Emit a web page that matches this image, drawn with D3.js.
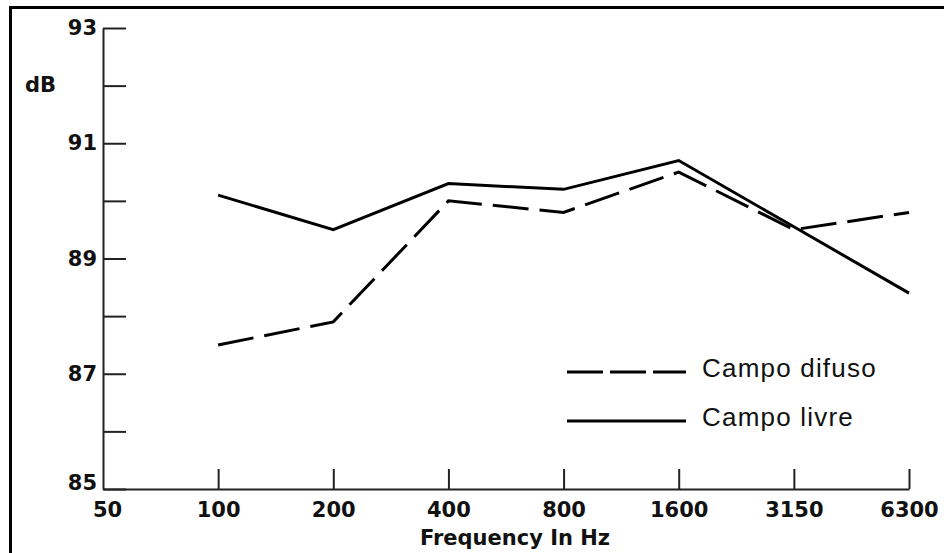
<!DOCTYPE html>
<html>
<meta charset="utf-8">
<style>
body { margin: 0; background: #fff; }
.tick text { font-family: "DejaVu Sans", sans-serif; font-weight: bold; font-size: 21px; fill: #111; }
.legend text { font-family: "Liberation Sans", Arial, sans-serif; font-size: 26px; letter-spacing: 1.2px; fill: #111; }
</style>
<script src="https://d3js.org/d3.v7.min.js"></script>
<body>
<div id="chart"></div>
<script>
// frequency bands (Hz), first one is only the origin label
var freqs = ["50", "100", "200", "400", "800", "1600", "3150", "6300"];
var bands = ["100", "200", "400", "800", "1600", "3150", "6300"];
// dB values
var campoDifuso = [87.5, 87.9, 90.0, 89.8, 90.5, 89.5, 89.8];
var campoLivre  = [90.1, 89.5, 90.3, 90.2, 90.7, 89.55, 88.4];
var yTicks = [85, 86, 87, 88, 89, 90, 91, 92, 93];
var seriesNames = ["Campo difuso", "Campo livre"];

var W = 944, H = 553;

var svg = d3.select("#chart")
  .append("svg")
    .attr("width", W)
    .attr("height", H);

// frame (top and left edges only, the rest is cropped off)
svg.append("path")
  .attr("d", "M10.5," + H + "V7.5H" + W)
  .attr("fill", "none")
  .attr("stroke", "#000")
  .attr("stroke-width", 3);

var x = d3.scalePoint()
  .domain(freqs)
  .range([103, 909]);

var y = d3.scaleLinear()
  .domain([85, 93])
  .range([489, 28]);

// y axis, ticks point into the plot
var yAxis = svg.append("g")
  .attr("transform", "translate(103,0)")
  .call(d3.axisLeft(y)
    .tickValues(yTicks)
    .tickSizeInner(-23)
    .tickSizeOuter(0)
    .tickPadding(6)
    .tickFormat(function(d){ return d % 2 ? d : ""; }));
yAxis.select(".domain").attr("stroke", "#222").attr("stroke-width", 2);
yAxis.selectAll(".tick line").attr("stroke", "#222").attr("stroke-width", 2);
yAxis.selectAll(".tick text").filter(function(d){ return d == 85; }).attr("dy", "0");

// x axis, ticks point up
var xAxis = svg.append("g")
  .attr("transform", "translate(0,489)")
  .call(d3.axisBottom(x)
    .tickSizeInner(-20)
    .tickSizeOuter(0)
    .tickPadding(13));
xAxis.select(".domain").attr("stroke", "#222").attr("stroke-width", 2);
xAxis.selectAll(".tick line").attr("stroke", "#222").attr("stroke-width", 2)
  .filter(function(d){ return d == "50"; }).remove();
xAxis.selectAll(".tick text").filter(function(d){ return d == "50"; }).attr("dx", 4);

// axis titles
svg.append("text")
  .attr("x", 25).attr("y", 92)
  .style("font-family", "DejaVu Sans, sans-serif")
  .style("font-weight", "bold")
  .style("font-size", "21px")
  .attr("fill", "#111")
  .text("dB");

svg.append("text")
  .attr("x", 515).attr("y", 545)
  .attr("text-anchor", "middle")
  .style("font-family", "DejaVu Sans, sans-serif")
  .style("font-weight", "bold")
  .style("font-size", "21px")
  .attr("fill", "#111")
  .text("Frequency In Hz");

var line = d3.line()
  .x(function(d, i){ return x(bands[i]); })
  .y(function(d){ return y(d); });

svg.append("path")
  .datum(campoDifuso)
  .attr("fill", "none")
  .attr("stroke", "#000")
  .attr("stroke-width", 3)
  .attr("stroke-dasharray", "36,11")
  .attr("d", line);

svg.append("path")
  .datum(campoLivre)
  .attr("fill", "none")
  .attr("stroke", "#000")
  .attr("stroke-width", 3)
  .attr("d", line);

// legend
var legend = svg.append("g").attr("class", "legend");
var ly = [372, 421];
seriesNames.forEach(function(name, i){
  legend.append("line")
    .attr("x1", 567).attr("x2", 686)
    .attr("y1", ly[i]).attr("y2", ly[i])
    .attr("stroke", "#000")
    .attr("stroke-width", 3)
    .attr("stroke-dasharray", i == 0 ? "36,7" : null);
  legend.append("text")
    .attr("x", 702).attr("y", ly[i] + 5)
    .text(name);
});
</script>
</body>
</html>
